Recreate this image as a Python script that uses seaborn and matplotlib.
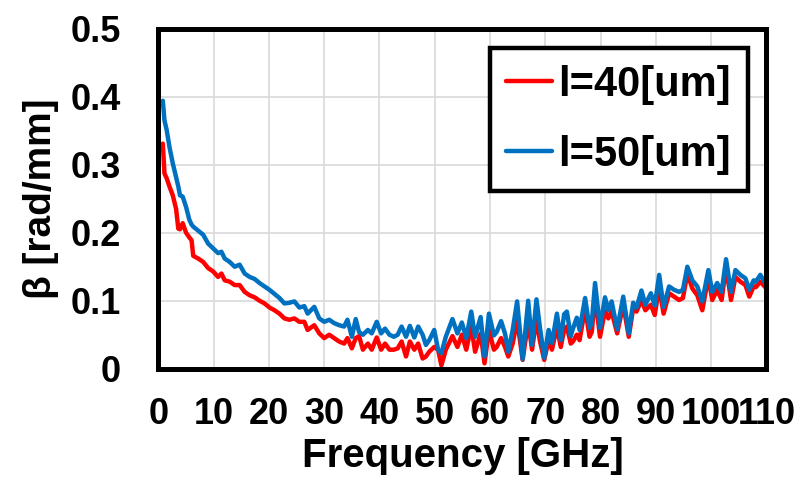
import numpy as np
import pandas as pd
import matplotlib
matplotlib.use("Agg")
import matplotlib.pyplot as plt
import seaborn as sns

# Datos (frecuencia en GHz, beta en rad/mm)
freq = [0.8, 1.1, 1.5, 2.0, 2.6, 3.2, 3.6, 3.9, 4.4, 5.0, 5.6, 6.0, 6.3, 7.2, 8.1, 9.0, 9.9,
        10.8, 11.4, 12.0, 12.9, 13.8, 14.7, 15.6, 16.5, 17.4, 18.3, 19.2, 20.1, 21.0, 21.9,
        22.8, 23.7, 24.6, 25.5, 26.4, 27.0, 28.2, 29.1, 30.0, 30.9, 31.8, 32.7, 33.6, 34.2,
        35.0, 35.7, 36.3, 37.0, 37.9, 38.6, 39.5, 40.3, 41.0, 41.8, 42.6, 43.3, 44.0, 44.8,
        45.5, 46.3, 47.0, 47.8, 48.4, 49.0, 49.9, 50.6, 51.2, 52.0, 53.2, 54.1, 54.9, 55.7,
        56.6, 57.3, 58.3, 59.0, 59.8, 60.7, 61.2, 62.0, 62.7, 63.3, 64.1, 64.9, 65.9, 66.9,
        67.6, 68.4, 69.0, 69.8, 70.6, 71.2, 72.1, 72.8, 73.4, 73.9, 74.6, 75.0, 75.7, 76.2,
        77.2, 78.0, 78.4, 79.0, 79.9, 80.8, 81.4, 82.0, 83.0, 84.1, 85.1, 85.9, 86.5, 87.4,
        88.1, 89.1, 89.8, 90.6, 91.4, 92.4, 93.3, 94.2, 94.9, 95.7, 96.6, 97.5, 98.4, 99.5,
        100.2, 101.1, 101.9, 102.7, 103.6, 104.4, 105.3, 106.2, 106.9, 107.7, 108.1, 108.9, 110.0]

beta_50 = [.394, .365, .351, .326, .302, .282, .268, .255, .253, .238, .219, .212, .209, .203, .197, .184, .177,
           .170, .172, .162, .157, .150, .153, .140, .135, .132, .126, .121, .116, .110, .104,
           .096, .097, .099, .090, .092, .081, .091, .074, .069, .072, .067, .064, .062, .072,
           .047, .073, .054, .050, .057, .052, .069, .052, .059, .050, .047, .050, .062, .047,
           .063, .046, .062, .050, .035, .042, .057, .028, .023, .047, .073, .052, .068, .045,
           .084, .047, .076, .018, .081, .049, .054, .070, .052, .025, .057, .099, .014, .100,
           .035, .102, .062, .016, .057, .038, .081, .042, .080, .084, .048, .059, .075, .057,
           .104, .060, .067, .126, .060, .105, .086, .099, .058, .106, .052, .097, .090, .115,
           .094, .111, .093, .138, .091, .121, .116, .113, .116, .150, .130, .121, .099, .145,
           .113, .126, .113, .161, .113, .145, .138, .133, .116, .130, .128, .138, .123]

beta_40 = [.331, .287, .280, .268, .255, .235, .206, .205, .214, .200, .193, .189, .166, .162, .157, .148, .143,
           .135, .140, .130, .128, .123, .123, .113, .108, .105, .100, .096, .090, .086, .081,
           .074, .072, .074, .069, .069, .057, .064, .052, .045, .050, .045, .040, .037, .045,
           .030, .045, .048, .028, .037, .028, .046, .028, .037, .028, .028, .030, .040, .018,
           .040, .028, .037, .015, .018, .025, .032, .028, .005, .028, .048, .032, .050, .028,
           .062, .025, .052, .008, .057, .028, .032, .045, .032, .018, .037, .072, .013, .069,
           .028, .074, .042, .013, .042, .028, .062, .032, .057, .062, .037, .040, .050, .042,
           .089, .047, .054, .106, .047, .086, .074, .084, .052, .094, .047, .089, .084, .101,
           .086, .094, .079, .120, .081, .111, .106, .101, .104, .140, .118, .108, .086, .135,
           .101, .116, .101, .150, .101, .135, .128, .123, .106, .121, .120, .128, .118]

etiquetas = ["l=40[um]", "l=50[um]"]
colores = ["#ff0000", "#0070c0"]

sns.set_theme(style="whitegrid")
plt.rcParams['font.family'] = ['Liberation Sans', 'DejaVu Sans']
plt.rcParams['font.weight'] = 'bold'
plt.rcParams['text.color'] = 'black'
plt.rcParams['axes.labelcolor'] = 'black'
plt.rcParams['xtick.color'] = 'black'
plt.rcParams['ytick.color'] = 'black'

fig = plt.figure(figsize=(8, 4.82), dpi=100)
ax = fig.add_axes([0.198, 0.235, 0.76, 0.7055])

sns.lineplot(x=freq, y=beta_40, color=colores[0], linewidth=3.2, label=etiquetas[0], ax=ax,
             solid_joinstyle='round')
sns.lineplot(x=freq, y=beta_50, color=colores[1], linewidth=3.2, label=etiquetas[1], ax=ax,
             solid_joinstyle='round')

ax.set_xlim(0, 110)
ax.set_ylim(0, 0.5)
ax.set_xticks(np.arange(0, 111, 10))
ax.set_yticks([0, 0.1, 0.2, 0.3, 0.4, 0.5])
ax.set_yticklabels(["0", "0.1", "0.2", "0.3", "0.4", "0.5"])
ax.grid(True, color="#d9d9d9", linewidth=1.2)
ax.tick_params(axis='both', length=0, labelsize=26, labelcolor='black')
ax.tick_params(axis='y', pad=27)
ax.tick_params(axis='x', pad=20)
for lbl in ax.get_xticklabels() + ax.get_yticklabels():
    lbl.set_fontweight('bold')

for s in ax.spines.values():
    s.set_visible(True)
    s.set_color("black")
    s.set_linewidth(3.6)

ax.set_xlabel("Frequency [GHz]", fontsize=29, fontweight='bold', labelpad=4, color='black')
ax.set_ylabel("β [rad/mm]", fontsize=28, fontweight='bold', labelpad=8, color='black')

leg = ax.legend(loc='upper right', bbox_to_anchor=(0.969, 0.943), borderaxespad=0,
                fontsize=30, handlelength=1.1, handletextpad=0.15, labelspacing=0.72,
                fancybox=False, framealpha=1, borderpad=0.4)
leg.get_frame().set_edgecolor("black")
leg.get_frame().set_linewidth(3.2)
for t in leg.get_texts():
    t.set_fontweight('bold')
    t.set_color('black')

plt.savefig("out.png", dpi=100)
